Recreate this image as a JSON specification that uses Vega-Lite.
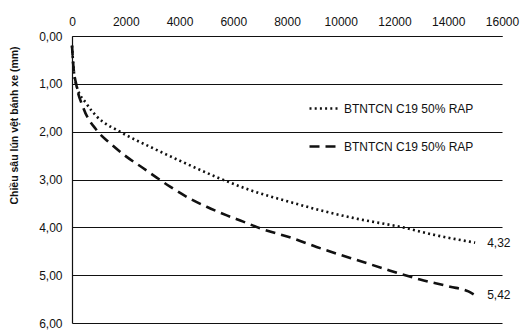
{
  "$schema": "https://vega.github.io/schema/vega-lite/v6.json",
  "width": 430,
  "height": 287,
  "autosize": {"type": "none"},
  "padding": {"left": 72, "top": 36, "right": 23, "bottom": 10},
  "config": {
    "locale": {"number": {"decimal": ",", "thousands": "", "grouping": [3], "currency": ["", ""]}},
    "font": "Liberation Sans",
    "view": {"stroke": null},
    "axis": {"labelFont": "Liberation Sans", "labelFontSize": 12, "labelColor": "#111", "titleColor": "#111"}
  },
  "data": {
    "values": [
      {"x": 0, "y": 0.2, "s": "a"},
      {"x": 50, "y": 0.62, "s": "a"},
      {"x": 174, "y": 1.05, "s": "a"},
      {"x": 546, "y": 1.42, "s": "a"},
      {"x": 918, "y": 1.68, "s": "a"},
      {"x": 1786, "y": 2.0, "s": "a"},
      {"x": 3030, "y": 2.35, "s": "a"},
      {"x": 4140, "y": 2.64, "s": "a"},
      {"x": 5510, "y": 2.98, "s": "a"},
      {"x": 6620, "y": 3.22, "s": "a"},
      {"x": 8110, "y": 3.47, "s": "a"},
      {"x": 9350, "y": 3.66, "s": "a"},
      {"x": 10600, "y": 3.82, "s": "a"},
      {"x": 12300, "y": 4.0, "s": "a"},
      {"x": 13500, "y": 4.16, "s": "a"},
      {"x": 15000, "y": 4.32, "s": "a"},
      {"x": 0, "y": 0.2, "s": "b"},
      {"x": 50, "y": 0.62, "s": "b"},
      {"x": 160, "y": 1.02, "s": "b"},
      {"x": 420, "y": 1.5, "s": "b"},
      {"x": 918, "y": 1.97, "s": "b"},
      {"x": 1414, "y": 2.24, "s": "b"},
      {"x": 1970, "y": 2.5, "s": "b"},
      {"x": 2640, "y": 2.76, "s": "b"},
      {"x": 3150, "y": 2.96, "s": "b"},
      {"x": 3650, "y": 3.15, "s": "b"},
      {"x": 4390, "y": 3.4, "s": "b"},
      {"x": 5010, "y": 3.57, "s": "b"},
      {"x": 5760, "y": 3.75, "s": "b"},
      {"x": 6370, "y": 3.88, "s": "b"},
      {"x": 7000, "y": 4.02, "s": "b"},
      {"x": 8230, "y": 4.23, "s": "b"},
      {"x": 9100, "y": 4.41, "s": "b"},
      {"x": 10350, "y": 4.64, "s": "b"},
      {"x": 11590, "y": 4.86, "s": "b"},
      {"x": 12200, "y": 4.97, "s": "b"},
      {"x": 12950, "y": 5.09, "s": "b"},
      {"x": 14070, "y": 5.24, "s": "b"},
      {"x": 14750, "y": 5.34, "s": "b"},
      {"x": 15000, "y": 5.42, "s": "b"}
    ]
  },
  "encoding": {
    "x": {
      "field": "x", "type": "quantitative",
      "scale": {"domain": [0, 16000], "nice": false},
      "axis": {"orient": "top", "title": null, "values": [0,2000,4000,6000,8000,10000,12000,14000,16000], "format": "d", "ticks": false, "grid": false, "labelFlush": false, "domainColor": "#111", "domainWidth": 1.2, "labelPadding": 8}
    },
    "y": {
      "field": "y", "type": "quantitative",
      "scale": {"domain": [0, 6], "reverse": true, "nice": false},
      "axis": {"title": "Chiều sâu lún vệt bánh xe (mm)", "titleFont": "Liberation Sans", "titleFontSize": 10.5, "titleFontWeight": "bold", "titleX": -53, "titleY": 89, "titleAngle": -90, "titleAlign": "center", "titleBaseline": "bottom", "values": [0,1,2,3,4,5,6], "format": ".2f", "ticks": false, "grid": true, "gridColor": "#111", "gridWidth": 1.2, "gridOpacity": 1, "domainColor": "#111", "domainWidth": 1.2, "labelPadding": 10, "labelFlush": false}
    }
  },
  "layer": [
    {
      "mark": {"type": "line", "color": "#111", "strokeWidth": 2.6, "strokeCap": "butt", "interpolate": "monotone"},
      "encoding": {
        "strokeDash": {
          "field": "s", "type": "nominal",
          "scale": {"domain": ["a", "b"], "range": [[2, 3.2], [10, 6]]},
          "legend": {
            "title": null, "orient": "none", "legendX": 236, "legendY": 57,
            "labelExpr": "'BTNTCN C19 50% RAP'",
            "labelFont": "Liberation Sans", "labelFontSize": 12, "labelColor": "#111",
            "symbolType": "stroke", "symbolSize": 784, "symbolStrokeWidth": 2.6, "symbolStrokeColor": "#111",
            "rowPadding": 16, "labelOffset": 5
          }
        }
      }
    },
    {
      "transform": [{"filter": "datum.x == 15000"}],
      "mark": {"type": "text", "align": "left", "baseline": "middle", "dx": 12, "fontSize": 12, "font": "Liberation Sans", "color": "#111"},
      "encoding": {"text": {"field": "y", "type": "quantitative", "format": ".2f"}}
    }
  ]
}
